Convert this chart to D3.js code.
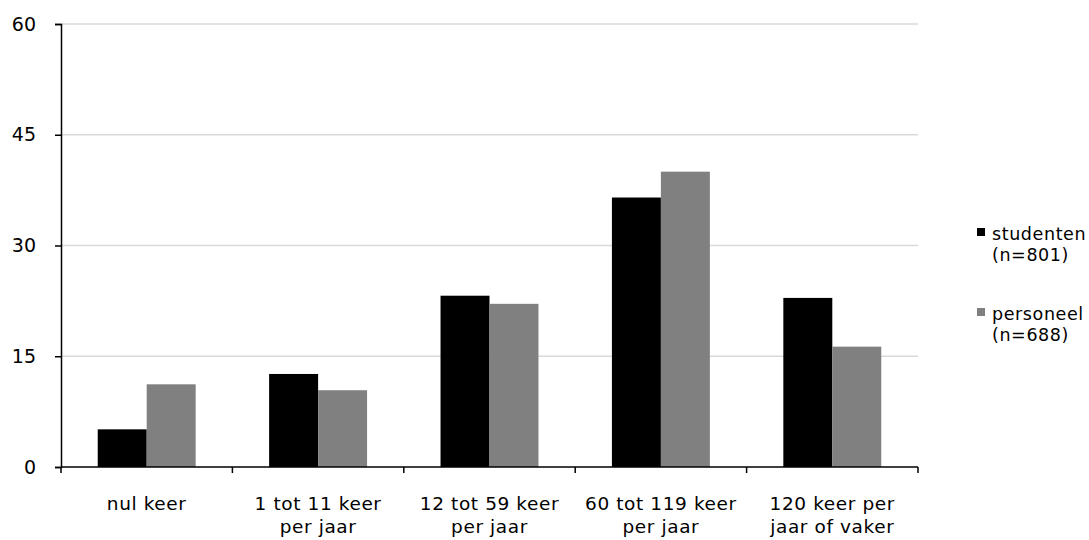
<!DOCTYPE html>
<html>
<head>
<meta charset="utf-8">
<script src="https://cdn.jsdelivr.net/npm/d3@7"></script>
<style>
  body { margin: 0; background: #fff; }
  svg text { font-family: "DejaVu Sans", sans-serif; fill: #000; }
</style>
</head>
<body>
<script>
const categories = [["nul keer"], ["1 tot 11 keer", "per jaar"], ["12 tot 59 keer", "per jaar"], ["60 tot 119 keer", "per jaar"], ["120 keer per", "jaar of vaker"]];
const seriesNames = ["studenten", "personeel"];
const seriesLabels = [["studenten", "(n=801)"], ["personeel", "(n=688)"]];
const studenten = [5.1, 12.6, 23.2, 36.5, 22.9];
const personeel = [11.2, 10.4, 22.1, 40.0, 16.3];
const yTicks = [0, 15, 30, 45, 60];
const colors = ["#000000", "#808080"];

const W = 1089, H = 540;
const m = {top: 24, right: 171, bottom: 73, left: 61};

const svg = d3.select('body').append('svg')
  .attr('width', W)
  .attr('height', H);

const keys = categories.map((c, i) => i);
const x0 = d3.scaleBand().domain(keys).range([m.left, W - m.right]).padding(0);
const x1 = d3.scaleBand().domain(seriesNames).range([0, x0.bandwidth()]).paddingInner(0).paddingOuter(0.75);
const y = d3.scaleLinear().domain([0, 60]).range([H - m.bottom, m.top]);

// gridlines
svg.append('g')
  .selectAll('line')
  .data(yTicks.filter(d => d > 0))
  .enter().append('line')
  .attr('x1', m.left)
  .attr('x2', W - m.right)
  .attr('y1', d => y(d))
  .attr('y2', d => y(d))
  .attr('stroke', '#d9d9d9')
  .attr('stroke-width', 1.5);

// bars
const data = keys.map(i => ({i: i, vals: [studenten[i], personeel[i]]}));
const groups = svg.append('g')
  .selectAll('g')
  .data(data)
  .enter().append('g')
  .attr('transform', d => 'translate(' + x0(d.i) + ',0)');

groups.selectAll('rect')
  .data(d => d.vals.map((v, k) => ({k: k, v: v})))
  .enter().append('rect')
  .attr('x', d => x1(seriesNames[d.k]))
  .attr('y', d => y(d.v))
  .attr('width', x1.bandwidth())
  .attr('height', d => y(0) - y(d.v))
  .attr('fill', d => colors[d.k]);

// y axis
const yAxis = svg.append('g')
  .attr('transform', 'translate(' + m.left + ',0)')
  .call(d3.axisLeft(y).tickValues(yTicks).tickSize(6).tickPadding(19));
yAxis.select('.domain').attr('stroke', '#000').attr('stroke-width', 1.5);
yAxis.selectAll('.tick line').attr('stroke', '#000').attr('stroke-width', 1.5);
yAxis.selectAll('.tick text')
  .style('font-size', '19px')
  .attr('fill', '#000');

// x axis
const xAxis = svg.append('g')
  .attr('transform', 'translate(0,' + y(0) + ')');
xAxis.append('line')
  .attr('x1', m.left)
  .attr('x2', W - m.right)
  .attr('stroke', '#000')
  .attr('stroke-width', 1.5);
const bounds = keys.map(i => x0(i)).concat([W - m.right]);
xAxis.selectAll('.xtick')
  .data(bounds)
  .enter().append('line')
  .attr('class', 'xtick')
  .attr('x1', d => d)
  .attr('x2', d => d)
  .attr('y1', 0)
  .attr('y2', 6)
  .attr('stroke', '#000')
  .attr('stroke-width', 1.5);

const xl = xAxis.selectAll('.xlabel')
  .data(keys)
  .enter().append('text')
  .attr('class', 'xlabel')
  .attr('text-anchor', 'middle')
  .style('font-size', '18.5px')
  .style('letter-spacing', '0.6px');
xl.selectAll('tspan')
  .data(i => categories[i].map(t => ({i: i, t: t})))
  .enter().append('tspan')
  .attr('x', d => x0(d.i) + x0.bandwidth() / 2)
  .attr('y', (d, j) => 43 + j * 23)
  .text(d => d.t);

// legend
const legend = svg.append('g')
  .selectAll('g')
  .data(seriesLabels)
  .enter().append('g')
  .attr('transform', (d, i) => 'translate(977,' + (228 + i * 80) + ')');
legend.append('rect')
  .attr('width', 8)
  .attr('height', 8)
  .attr('fill', (d, i) => colors[i]);
legend.append('text')
  .style('font-size', '17.5px')
  .style('letter-spacing', '0.6px')
  .selectAll('tspan')
  .data(d => d)
  .enter().append('tspan')
  .attr('x', 15)
  .attr('y', (d, j) => 12 + j * 21)
  .text(d => d);
</script>
</body>
</html>
